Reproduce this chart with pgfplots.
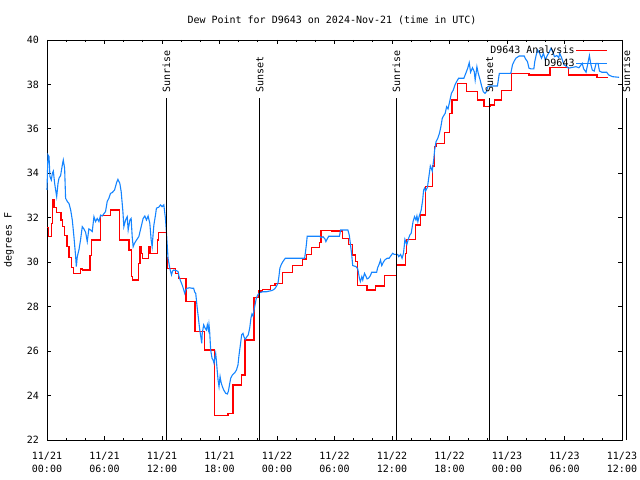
\documentclass[border=0pt]{standalone}
\usepackage{fontspec}
\setmainfont{DejaVu Sans Mono}
\usepackage{pgfplots}
\pgfplotsset{compat=1.18}
\definecolor{obsblue}{RGB}{20,132,255}
\newcommand{\gfont}{\fontsize{10bp}{12.5bp}\selectfont}
\begin{document}
\begin{tikzpicture}[font=\gfont]
\begin{axis}[
  at={(0,0)}, anchor=south west,
  scale only axis, width=575bp, height=400bp,
  xmin=0, xmax=60, ymin=22, ymax=40,
  clip=false,
  xtick={0,6,...,60},
  minor xtick={2,4,8,10,14,16,20,22,26,28,32,34,38,40,44,46,50,52,56,58},
  xticklabels={{11/21\\00:00},{11/21\\06:00},{11/21\\12:00},{11/21\\18:00},{11/22\\00:00},{11/22\\06:00},{11/22\\12:00},{11/22\\18:00},{11/23\\00:00},{11/23\\06:00},{11/23\\12:00}},
  ytick={22,24,...,40},
  tick align=inside,
  major tick length=4bp, minor tick length=2.3bp,
  tick style={black, line width=0.9bp},
  axis line style={black, line width=0.9bp},
  /pgf/number format/assume math mode=true,
  tick label style={font=\gfont},
  xticklabel style={align=center, inner sep=0pt, yshift=-12bp},
  yticklabel style={inner sep=0pt, xshift=-8bp},
  title={Dew Point for D9643 on 2024-Nov-21 (time in UTC)},
  title style={at={(axis description cs:0.5,1)}, anchor=south, inner sep=0pt, yshift=9bp, xshift=-2.5bp, font=\gfont},
  ylabel={degrees F},
  ylabel style={at={(axis description cs:-0.0574,0.5)}, anchor=south, inner sep=0pt, font=\gfont},
  legend style={draw=none, fill=none, at={(rel axis cs:1,1)}, anchor=north east, xshift=-14bp, yshift=-4.5bp, inner sep=0pt, row sep=2.5bp, font=\gfont, nodes={inner sep=1bp}},
  legend cell align=right,
  legend plot pos=right,
  legend image code/.code={\draw[#1] (0bp,0bp) -- (31bp,0bp);},
]
\addplot[red, line width=1.25bp, const plot] coordinates {
(0.0,31.55) (0.15,31.15) (0.45,31.75) (0.6,32.8) (0.73,32.45) (0.97,32.23)
(1.45,31.9) (1.65,31.6) (1.85,31.2) (2.1,30.7) (2.3,30.2) (2.55,29.75) (2.8,29.5)
(3.5,29.7) (3.7,29.65) (4.5,30.3) (4.65,31.0) (5.55,32.1) (6.6,32.35) (7.6,31.0)
(8.55,30.55) (8.8,29.35) (8.95,29.2) (9.55,29.95) (9.7,30.7) (9.82,30.4) (9.95,30.18)
(10.6,30.7) (10.75,30.4) (11.5,31.0) (11.65,31.35) (12.45,30.2) (12.55,29.73)
(13.4,29.5) (13.75,29.27) (14.5,28.22) (15.45,26.87) (16.4,26.05) (17.5,23.1)
(18.9,23.2) (19.4,24.47) (20.3,24.93) (20.65,26.5) (21.6,28.42) (22.1,28.7)
(22.5,28.78) (23.35,28.95) (23.8,29.05) (24.6,29.55) (25.6,29.85) (26.7,30.15)
(27.1,30.36) (27.6,30.65) (28.45,30.9) (28.6,31.42) (29.7,31.4) (30.85,31.07)
(31.5,30.8) (31.85,30.33) (32.2,30.03) (32.4,28.95) (33.4,28.75) (34.3,28.93)
(35.25,29.4) (36.45,29.88) (37.4,30.4) (37.5,31.03) (38.45,31.67) (38.95,32.12)
(39.5,33.4) (40.2,34.33) (40.45,35.2) (40.6,35.35) (41.45,35.83) (42.0,36.7)
(42.25,37.3) (42.85,38.05) (43.8,37.67) (44.9,37.3) (45.6,37.0) (46.25,37.07)
(46.7,37.3) (47.4,37.72) (48.5,38.5) (50.3,38.43) (52.5,38.77) (54.4,38.43)
(57.4,38.32) (58.5,38.32)
};
\addlegendentry{D9643 Analysis}
\addplot[obsblue, line width=1.1bp] coordinates {
(0.0,33.25) (0.1,34.83) (0.21,34.75) (0.31,33.85) (0.45,33.7) (0.56,34.0) (0.66,34.1)
(0.8,33.55) (0.9,33.25) (1.01,32.95) (1.15,33.55) (1.25,33.78) (1.42,33.9) (1.6,34.38)
(1.7,34.6) (1.84,34.22) (1.94,32.88) (2.12,32.73) (2.29,32.65) (2.47,32.35) (2.64,31.9)
(2.81,31.15) (2.99,30.25) (3.06,29.8) (3.16,30.25) (3.33,30.55) (3.5,31.0) (3.68,31.6)
(3.85,31.5) (4.03,31.35) (4.2,30.93) (4.37,31.5) (4.55,31.45) (4.72,31.38) (4.9,32.05)
(5.07,31.83) (5.24,31.97) (5.42,31.83) (5.59,32.12) (5.76,32.08) (6.11,32.28) (6.28,32.73)
(6.46,32.88) (6.63,33.1) (6.8,33.13) (7.05,33.25) (7.26,33.58) (7.4,33.73) (7.6,33.55)
(7.74,33.18) (7.92,32.28) (8.02,31.6) (8.2,31.9) (8.37,32.05) (8.47,31.45) (8.65,31.9)
(8.78,31.97) (8.89,31.15) (8.99,30.7) (9.13,30.85) (9.34,31.0) (9.58,31.15) (9.83,31.6)
(10.03,31.97) (10.21,32.08) (10.38,31.9) (10.55,32.08) (10.73,31.75) (10.87,31.0)
(10.97,30.7) (11.08,31.3) (11.15,31.67) (11.32,32.12) (11.42,32.43) (11.67,32.48)
(11.84,32.58) (12.01,32.5) (12.19,32.58) (12.36,31.97) (12.47,31.3) (12.63,30.18)
(12.81,29.73) (12.99,29.43) (13.1,29.6) (13.23,29.65) (13.5,29.62) (13.68,29.58)
(13.78,29.35) (13.9,29.2) (14.1,28.98) (14.24,28.8) (14.37,28.6) (14.48,28.75)
(14.61,28.83) (14.9,28.85) (15.1,28.83) (15.3,28.83) (15.42,28.65) (15.52,28.6)
(15.66,28.0) (15.8,27.48) (15.94,26.95) (16.05,26.65) (16.15,26.35) (16.2,26.8)
(16.35,27.18) (16.5,27.03) (16.63,26.95) (16.73,27.18) (16.84,26.95) (16.9,27.2)
(16.97,26.9) (17.08,26.05) (17.22,25.68) (17.33,25.6) (17.43,25.45) (17.53,25.75)
(17.6,25.9) (17.67,25.6) (17.74,25.23) (17.85,24.7) (17.95,24.4) (18.06,24.85)
(18.16,24.6) (18.3,24.4) (18.44,24.25) (18.65,24.1) (18.82,24.07) (18.93,24.2)
(19.07,24.55) (19.17,24.78) (19.35,24.93) (19.6,25.03) (19.77,25.15) (19.93,25.38)
(20.04,25.83) (20.2,26.35) (20.31,26.73) (20.45,26.8) (20.55,26.65) (20.69,26.53)
(20.86,26.65) (21.0,26.73) (21.15,27.03) (21.28,27.48) (21.39,27.67) (21.5,27.58)
(21.6,27.85) (21.74,28.15) (21.84,28.38) (22.0,28.53) (22.19,28.63) (22.5,28.67)
(22.88,28.67) (23.2,28.7) (23.5,28.73) (23.75,28.8) (23.92,28.9) (24.1,29.05)
(24.2,29.35) (24.3,29.73) (24.45,29.9) (24.62,30.03) (24.87,30.18) (26.88,30.18)
(26.98,30.48) (27.08,30.85) (27.15,31.17) (28.44,31.17) (28.6,31.1) (28.8,31.15)
(29.0,31.05) (29.1,30.93) (29.24,31.05) (29.4,31.17) (30.52,31.17) (30.63,31.45)
(31.4,31.45) (31.55,31.2) (31.67,30.78) (31.8,30.33) (31.9,29.85) (32.25,29.8)
(32.43,29.7) (32.6,29.28) (32.7,29.13) (32.85,29.35) (32.95,29.2) (33.13,29.5)
(33.3,29.35) (33.4,29.25) (33.55,29.28) (33.75,29.4) (33.88,29.55) (34.4,29.55)
(34.5,29.75) (34.65,29.9) (34.8,30.1) (34.93,29.85) (35.1,30.0) (35.25,30.1)
(35.5,30.18) (35.7,30.18) (35.9,30.3) (36.07,30.4) (36.25,30.35) (36.6,30.35)
(36.7,30.25) (36.9,30.35) (37.05,30.18) (37.2,30.4) (37.35,31.03) (37.45,30.9)
(37.55,30.8) (37.7,31.03) (37.85,31.22) (38.0,31.3) (38.2,31.83) (38.35,32.05)
(38.5,31.9) (38.6,32.08) (38.7,31.83) (38.85,32.08) (39.05,32.35) (39.2,32.8)
(39.3,33.25) (39.4,33.33) (39.5,33.2) (39.7,33.37) (39.85,33.85) (40.0,34.33)
(40.12,34.2) (40.2,34.1) (40.35,34.6) (40.45,35.05) (40.6,35.43) (40.78,35.58)
(40.95,35.8) (41.1,36.1) (41.25,36.48) (41.4,36.6) (41.55,36.7) (41.7,37.0)
(41.85,36.9) (42.05,37.3) (42.2,37.6) (42.4,37.75) (42.57,37.98) (42.75,38.13)
(42.95,38.28) (43.5,38.28) (43.7,38.5) (43.9,38.73) (44.06,38.98) (44.2,38.55)
(44.4,38.75) (44.58,38.58) (44.68,38.2) (44.86,38.8) (45.0,38.5) (45.2,38.2)
(45.35,37.93) (45.53,37.67) (45.7,37.6) (45.85,37.67) (46.0,37.9) (46.25,37.93)
(47.0,37.93) (47.2,38.5) (48.4,38.5) (48.57,38.88) (48.75,39.05) (48.93,39.18)
(49.27,39.28) (49.8,39.28) (49.93,39.15) (50.13,39.03) (50.3,38.73) (50.5,38.7)
(50.8,38.7) (50.9,39.03) (51.05,39.33) (51.2,39.55) (51.4,39.4) (51.6,39.18)
(51.8,39.4) (52.0,39.1) (52.2,39.3) (52.4,39.45) (52.6,39.63) (52.8,39.45)
(52.95,39.25) (53.2,39.3) (53.4,39.2) (53.5,39.4) (53.7,39.2) (53.95,38.88)
(54.25,38.8) (54.4,38.73) (55.2,38.8) (55.5,38.75) (55.85,38.95) (56.0,38.7)
(56.25,38.55) (56.6,39.3) (56.75,38.9) (56.9,38.65) (57.1,38.6) (57.3,38.95)
(57.5,38.95) (57.65,38.6) (57.9,38.55) (58.4,38.55) (58.6,38.43) (59.0,38.35)
(59.7,38.32)
};
\addlegendentry{D9643}
\draw[black, line width=0.9bp] (axis cs:12.47,22) -- (axis cs:12.47,37.39);
\draw[black, line width=0.9bp] (axis cs:22.2,22) -- (axis cs:22.2,37.39);
\draw[black, line width=0.9bp] (axis cs:36.45,22) -- (axis cs:36.45,37.39);
\draw[black, line width=0.9bp] (axis cs:46.17,22) -- (axis cs:46.17,37.39);
\draw[black, line width=0.9bp] (axis cs:60.45,22) -- (axis cs:60.45,37.39);
\node[rotate=90, anchor=west, inner sep=0pt, font=\gfont] at (axis cs:12.47,37.62) {Sunrise};
\node[rotate=90, anchor=west, inner sep=0pt, font=\gfont] at (axis cs:22.2,37.62) {Sunset};
\node[rotate=90, anchor=west, inner sep=0pt, font=\gfont] at (axis cs:36.45,37.62) {Sunrise};
\node[rotate=90, anchor=west, inner sep=0pt, font=\gfont] at (axis cs:46.17,37.62) {Sunset};
\node[rotate=90, anchor=west, inner sep=0pt, font=\gfont] at (axis cs:60.45,37.62) {Sunrise};
\end{axis}
\pgfresetboundingbox
\path[use as bounding box] (-47bp,-40bp) rectangle (593bp,440bp);
\end{tikzpicture}
\end{document}
